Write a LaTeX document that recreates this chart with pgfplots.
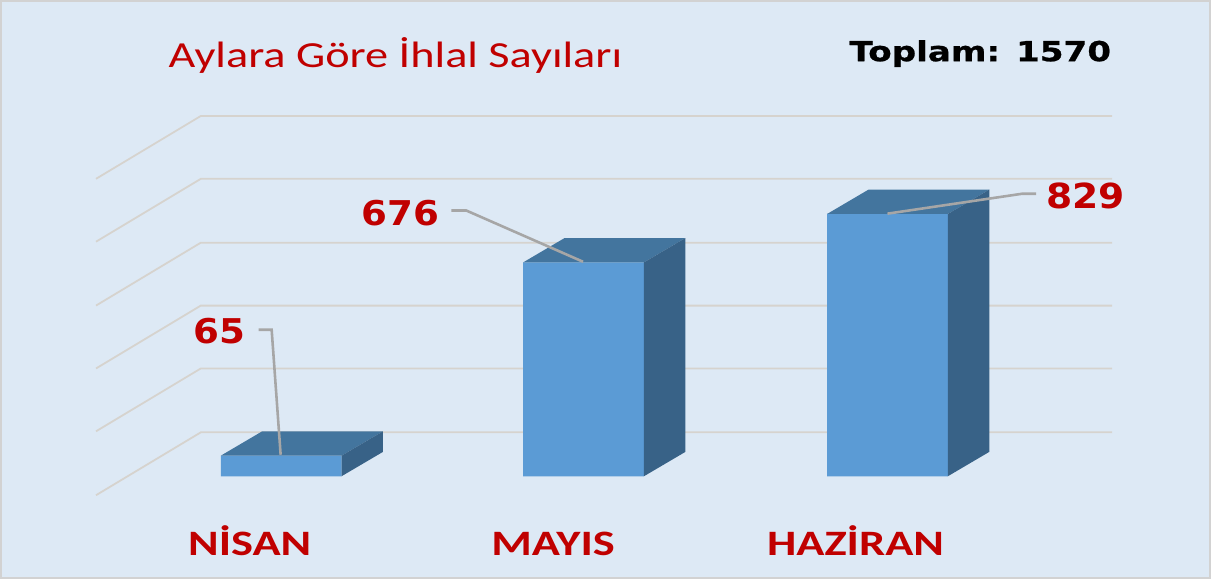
\documentclass[border=0pt]{standalone}
\usepackage{pgfplots}
\pgfplotsset{compat=1.18}
\usepackage{fontspec}
\setmainfont{Carlito}
\newfontfamily\titlefont[FakeStretch=1.26]{Carlito}
\newfontfamily\catfont[FakeStretch=1.3]{Carlito}
\newfontfamily\numfont[FakeStretch=1.09]{DejaVu Sans}
\newfontfamily\totfont[FakeStretch=1.24, FakeBold=0.8]{DejaVu Sans}
\definecolor{bgcol}{RGB}{221,233,245}
\definecolor{gridcol}{RGB}{214,211,206}
\definecolor{frontcol}{RGB}{91,155,213}
\definecolor{topcol}{RGB}{67,117,158}
\definecolor{sidecol}{RGB}{56,98,135}
\definecolor{labred}{RGB}{192,0,0}
\definecolor{leadcol}{RGB}{166,166,166}
\begin{document}
\begin{tikzpicture}
\begin{axis}[
  width=605.5bp, height=289bp, scale only axis,
  xmin=0, xmax=1211, ymin=-321.8, ymax=1501.6,
  axis background/.style={fill=bgcol},
  axis line style={draw=gray!35, line width=1.2pt},
  xtick=\empty, ytick=\empty,
  clip=false,
]
% gridlines (back wall + left side wall), values 0..1000 step 200
\pgfplotsinvokeforeach{138.8,340.7,539.4,738.2,940.1,1138.8}{
  \addplot[gridcol, line width=0.9pt] coordinates {(95,#1-198.7) (200,#1) (1113,#1)};
}
% bars: front faces
\addplot[ybar, bar width=121, bar shift=0, fill=frontcol, draw=none] coordinates {(280.5,65) (583.5,676) (888,829)};
% top faces
\addplot[fill=topcol, draw=none] coordinates {(220,65) (341,65) (382.5,142) (261.5,142)} --cycle;
\addplot[fill=topcol, draw=none] coordinates {(523,676) (644,676) (685.5,753) (564.5,753)} --cycle;
\addplot[fill=topcol, draw=none] coordinates {(827.5,829) (948.5,829) (990,906) (869,906)} --cycle;
% side faces
\addplot[fill=sidecol, draw=none] coordinates {(341,0) (382.5,77) (382.5,142) (341,65)} --cycle;
\addplot[fill=sidecol, draw=none] coordinates {(644,0) (685.5,77) (685.5,753) (644,676)} --cycle;
\addplot[fill=sidecol, draw=none] coordinates {(948.5,0) (990,77) (990,906) (948.5,829)} --cycle;
% leader lines
\addplot[leadcol, line width=1.3pt] coordinates {(258,463) (271,463) (280,68)};
\addplot[leadcol, line width=1.3pt] coordinates {(451,840) (466,840) (583,678)};
\addplot[leadcol, line width=1.3pt] coordinates {(888,830) (1023,893) (1037,893)};
% data labels
\node[anchor=base east, inner sep=0pt, text=labred, font=\numfont\bfseries\fontsize{17.1bp}{20bp}\selectfont] at (axis cs:245,420) {65};
\node[anchor=base east, inner sep=0pt, text=labred, font=\numfont\bfseries\fontsize{17.1bp}{20bp}\selectfont] at (axis cs:439,792) {676};
\node[anchor=base west, inner sep=0pt, text=labred, font=\numfont\bfseries\fontsize{17.3bp}{20bp}\selectfont] at (axis cs:1047,845) {829};
% title and total
\node[anchor=base, inner sep=0pt, text=labred, font=\titlefont\fontsize{18.4bp}{21bp}\selectfont] at (axis cs:395,1293) {Aylara Göre İhlal Sayıları};
\node[anchor=base, inner sep=0pt, text=black, font=\totfont\bfseries\fontsize{13.8bp}{15bp}\selectfont] at (axis cs:981,1312) {Toplam: 1570};
% categories
\node[anchor=base, inner sep=0pt, text=labred, font=\catfont\bfseries\fontsize{17.9bp}{20bp}\selectfont] at (axis cs:249,-249) {NİSAN};
\node[anchor=base, inner sep=0pt, text=labred, font=\catfont\bfseries\fontsize{17.9bp}{20bp}\selectfont] at (axis cs:553,-249) {MAYIS};
\node[anchor=base, inner sep=0pt, text=labred, font=\catfont\bfseries\fontsize{17.9bp}{20bp}\selectfont] at (axis cs:856,-249) {HAZİRAN};
\end{axis}
\end{tikzpicture}
\end{document}
